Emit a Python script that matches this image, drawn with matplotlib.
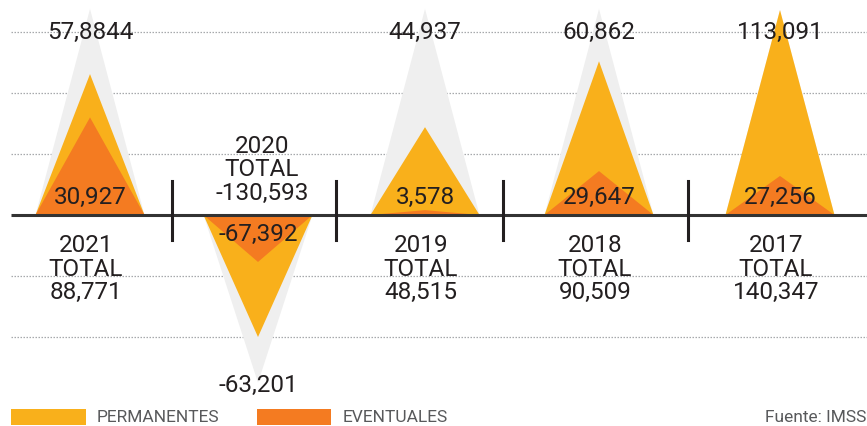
import numpy as np
import matplotlib.pyplot as plt
from matplotlib.patches import Polygon, Rectangle

# data
years = ['2021', '2020', '2019', '2018', '2017']
permanentes = ['57,8844', '-63,201', '44,937', '60,862', '113,091']
eventuales = ['30,927', '-67,392', '3,578', '29,647', '27,256']
totales = ['88,771', '-130,593', '48,515', '90,509', '140,347']

# triangle heights as drawn (grid units, not to scale with the values)
perm_height = [2.31, -2.0, 1.44, 2.52, 3.36]
event_height = [1.6, -0.77, 0.08, 0.72, 0.64]
shadow_height = [3.38, -2.75, 3.38, 3.38, 3.36]

# layout (pixel-like x units)
centers = [90, 258, 425, 599, 780]
separators = [172, 336, 503, 688]
half_base = 54.5

YELLOW = '#F9B01B'
ORANGE = '#F47B21'
SHADOW = '#EFEFEF'
TEXT = '#231F20'
GREY_TEXT = '#58595B'

plt.rcParams['font.family'] = ['Roboto', 'DejaVu Sans']

W, H = 867, 426
fig = plt.figure(figsize=(W / 100, H / 100), dpi=100)
ax = fig.add_axes([0, 0, 1, 1])
unit = 61.0
ax.set_xlim(0, W)
ax.set_ylim(-211 / unit, 215 / unit)
ax.axis('off')

# dotted grid
for g in [1, 2, 3, -1, -2]:
    ax.plot([11, W], [g, g], color='#A7A9AC', lw=0.9, ls=(0, (1.2, 1.2)), zorder=1)


def tri(cx, h, color, z):
    pts = [(cx - half_base, 0), (cx + half_base, 0), (cx, h)]
    ax.add_patch(Polygon(pts, closed=True, facecolor=color, edgecolor='none', zorder=z))


for i, cx in enumerate(centers):
    tri(cx, shadow_height[i], SHADOW, 2)
    tri(cx, perm_height[i], YELLOW, 3)
    tri(cx, event_height[i], ORANGE, 4)

# baseline and separators
ax.plot([11, W], [0, 0], color='#333333', lw=2.2, zorder=5, solid_capstyle='butt')
for sx in separators:
    ax.plot([sx, sx], [34 / unit, -25 / unit], color='#231F20', lw=2.2, zorder=5)

fs = 17.5
for i, cx in enumerate(centers):
    up = perm_height[i] > 0
    if up:
        ax.text(cx, 183 / unit, permanentes[i], ha='center', va='center',
                fontsize=fs, color=TEXT, zorder=6)
        ax.text(cx, 18 / unit, eventuales[i], ha='center', va='center',
                fontsize=fs, color=TEXT, zorder=6)
        ax.text(cx - 4, -19 / unit, years[i] + '\nTOTAL\n' + totales[i], ha='center',
                va='top', fontsize=fs, color=TEXT, linespacing=1.04, zorder=6)
    else:
        ax.text(cx, -170 / unit, permanentes[i], ha='center', va='center',
                fontsize=fs, color=TEXT, zorder=6)
        ax.text(cx, -19 / unit, eventuales[i], ha='center', va='center',
                fontsize=fs, color=TEXT, zorder=6)
        ax.text(cx + 4, 10 / unit, years[i] + '\nTOTAL\n' + totales[i], ha='center',
                va='bottom', fontsize=fs, color=TEXT, linespacing=1.04, zorder=6)

# legend
ax.add_patch(Rectangle((11, -210 / unit), 75, 16 / unit, facecolor=YELLOW, edgecolor='none'))
ax.text(97, -202 / unit, 'PERMANENTES', ha='left', va='center', fontsize=12.5, color=GREY_TEXT)
ax.add_patch(Rectangle((257, -210 / unit), 74, 16 / unit, facecolor=ORANGE, edgecolor='none'))
ax.text(343, -202 / unit, 'EVENTUALES', ha='left', va='center', fontsize=12.5, color=GREY_TEXT)
ax.text(866, -202 / unit, 'Fuente: IMSS', ha='right', va='center', fontsize=12.5, color=GREY_TEXT)

fig.savefig('out.png', dpi=100)
